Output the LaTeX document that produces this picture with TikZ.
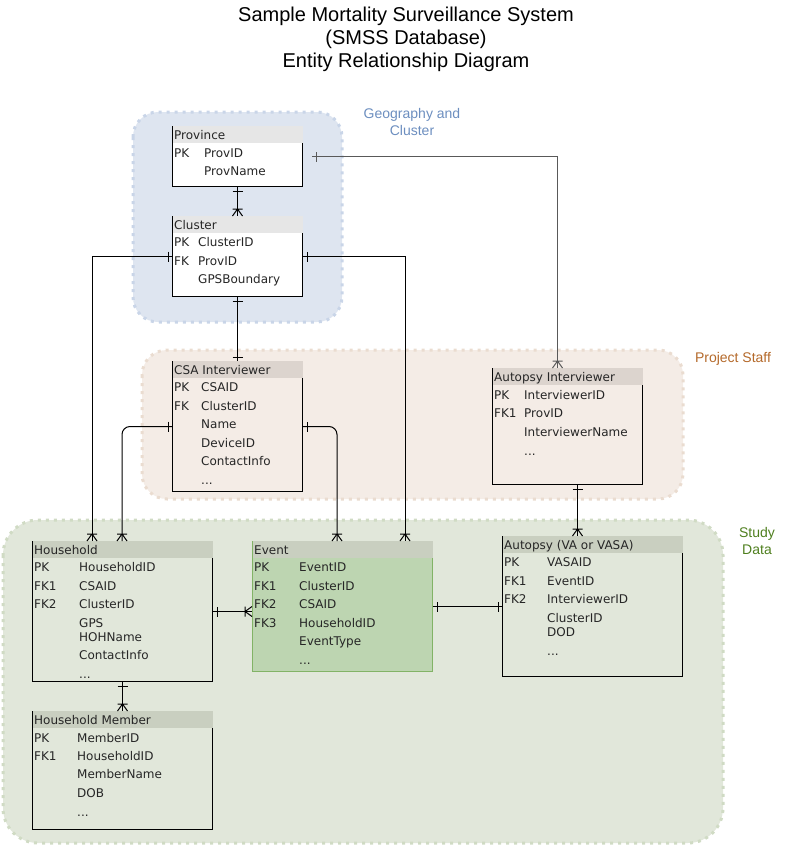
\documentclass[tikz,border=0pt]{standalone}
\usepackage{fontspec}
\setmainfont{DejaVu Sans}
\newfontfamily\arialfont{Liberation Sans}
\usetikzlibrary{decorations.markings}

\definecolor{geofill}{HTML}{DEE5F0}
\definecolor{geoline}{HTML}{C9D5E8}
\definecolor{geotext}{HTML}{6C8EBF}
\definecolor{stafffill}{HTML}{F4ECE6}
\definecolor{staffline}{HTML}{EADCD0}
\definecolor{stafftext}{HTML}{B4692A}
\definecolor{studyfill}{HTML}{E1E7DA}
\definecolor{studyline}{HTML}{D0DBC4}
\definecolor{studytext}{HTML}{4F7F1F}
\definecolor{hdrgeo}{HTML}{E6E6E6}
\definecolor{hdrstaff}{HTML}{DCD4CE}
\definecolor{hdrstudy}{HTML}{C9CFC0}
\definecolor{evfill}{HTML}{BDD5B1}
\definecolor{evline}{HTML}{82B366}

\newcommand\moredots{.\kern0pt.\kern0pt.}

\tikzset{
  tbl/.style={draw, anchor=north west, line width=1pt, inner sep=0pt},
  fld/.style={anchor=mid west, inner sep=0pt, yshift=-2pt, text=black!85, font=\fontsize{12}{14}\selectfont},
  grp/.style={line width=3pt, dash pattern=on 3pt off 5pt, rounded corners=25pt},
  grplabel/.style={font=\arialfont\fontsize{14}{17}\selectfont, align=center},
  conn/.style={line width=1pt},
  onefrom/.style={postaction={decorate, decoration={markings,
    mark=at position 4pt with {\draw[line width=1pt] (0,-5pt) -- (0,5pt);}}}},
  oneto/.style={postaction={decorate, decoration={markings,
    mark=at position -4pt with {\draw[line width=1pt] (0,-5pt) -- (0,5pt);}}}},
  manyto/.style={postaction={decorate, decoration={markings,
    mark=at position -7pt with {\draw[line width=1pt] (0,-5pt) -- (0,5pt)
      (0,0) -- (7pt,5pt) (0,0) -- (7pt,-5pt);}}}}
}

\begin{document}
\begin{tikzpicture}[x=1pt,y=-1pt]
\useasboundingbox (0,0) rectangle (802,846);

% The title
\node[font=\arialfont\fontsize{20}{23}\selectfont, align=center] (title) at (406,39)
  {Sample Mortality Surveillance System\\(SMSS Database)\\Entity Relationship Diagram};

% The groups
\draw[grp, fill=geofill, draw=geoline] (133,112) rectangle (342,322);
\draw[grp, fill=stafffill, draw=staffline] (142,350) rectangle (683,499);
\draw[grp, fill=studyfill, draw=studyline, rounded corners=35pt] (3,520) rectangle (723,843);
\node[grplabel, text=geotext] (geo) at (412,122) {Geography and\\Cluster};
\node[grplabel, text=stafftext] (staff) at (733,359) {Project Staff};
\node[grplabel, text=studytext] (study) at (757,541) {Study\\Data};

% Province
\node[tbl, fill=white, minimum width=130pt, minimum height=60pt] (prov) at (172,126) {};
\fill[hdrgeo] ([shift={(0.5pt,0.5pt)}]prov.north west) rectangle ([shift={(-0.5pt,-17pt)}]prov.north east);
\node[fld] (prov-t) at ([shift={(2pt,-9pt)}]prov.north west) {Province};
\foreach \y/\k/\f [count=\i] in {153/PK/ProvID, 171//ProvName} {
  \node[fld] (prov-k\i) at (174,\y) {\k};
  \node[fld] (prov-f\i) at (204,\y) {\f};
}

% Cluster
\node[tbl, fill=white, minimum width=130pt, minimum height=80pt] (clu) at (172,216) {};
\fill[hdrgeo] ([shift={(0.5pt,0.5pt)}]clu.north west) rectangle ([shift={(-0.5pt,-17pt)}]clu.north east);
\node[fld] (clu-t) at ([shift={(2pt,-9pt)}]clu.north west) {Cluster};
\foreach \y/\k/\f [count=\i] in {242/PK/ClusterID, 261/FK/ProvID, 279//GPSBoundary} {
  \node[fld] (clu-k\i) at (174,\y) {\k};
  \node[fld] (clu-f\i) at (198,\y) {\f};
}

% CSA Interviewer
\node[tbl, minimum width=130pt, minimum height=130pt] (csa) at (172,361) {};
\fill[hdrstaff] ([shift={(0.5pt,0.5pt)}]csa.north west) rectangle ([shift={(-0.5pt,-17pt)}]csa.north east);
\node[fld] (csa-t) at ([shift={(2pt,-9pt)}]csa.north west) {CSA Interviewer};
\foreach \y/\k/\f [count=\i] in {387/PK/CSAID, 406/FK/ClusterID, 424//Name,
    443//DeviceID, 461//ContactInfo, 480//\moredots} {
  \node[fld] (csa-k\i) at (174,\y) {\k};
  \node[fld] (csa-f\i) at (201,\y) {\f};
}

% Autopsy Interviewer
\node[tbl, minimum width=150pt, minimum height=116pt] (ai) at (492,368) {};
\fill[hdrstaff] ([shift={(0.5pt,0.5pt)}]ai.north west) rectangle ([shift={(-0.5pt,-17pt)}]ai.north east);
\node[fld] (ai-t) at ([shift={(2pt,-9pt)}]ai.north west) {Autopsy Interviewer};
\foreach \y/\k/\f [count=\i] in {395/PK/InterviewerID, 413/FK1/ProvID,
    432//InterviewerName, 451//\moredots} {
  \node[fld] (ai-k\i) at (494,\y) {\k};
  \node[fld] (ai-f\i) at (524,\y) {\f};
}

% Household
\node[tbl, minimum width=180pt, minimum height=140pt] (hh) at (32,541) {};
\fill[hdrstudy] ([shift={(0.5pt,0.5pt)}]hh.north west) rectangle ([shift={(-0.5pt,-17pt)}]hh.north east);
\node[fld] (hh-t) at ([shift={(2pt,-9pt)}]hh.north west) {Household};
\foreach \y/\k/\f [count=\i] in {567/PK/HouseholdID, 586/FK1/CSAID, 604/FK2/ClusterID,
    623//GPS, 637//HOHName, 655//ContactInfo, 674//\moredots} {
  \node[fld] (hh-k\i) at (34,\y) {\k};
  \node[fld] (hh-f\i) at (79,\y) {\f};
}

% Event
\node[tbl, draw=evline, fill=evfill, minimum width=180pt, minimum height=130pt] (ev) at (252,541) {};
\fill[hdrstudy] ([shift={(0.5pt,0.5pt)}]ev.north west) rectangle ([shift={(-0.5pt,-17pt)}]ev.north east);
\node[fld] (ev-t) at ([shift={(2pt,-9pt)}]ev.north west) {Event};
\foreach \y/\k/\f [count=\i] in {567/PK/EventID, 586/FK1/ClusterID, 604/FK2/CSAID,
    623/FK3/HouseholdID, 641//EventType, 660//\moredots} {
  \node[fld] (ev-k\i) at (254,\y) {\k};
  \node[fld] (ev-f\i) at (299,\y) {\f};
}

% Autopsy
\node[tbl, minimum width=180pt, minimum height=140pt] (ap) at (502,536) {};
\fill[hdrstudy] ([shift={(0.5pt,0.5pt)}]ap.north west) rectangle ([shift={(-0.5pt,-17pt)}]ap.north east);
\node[fld] (ap-t) at ([shift={(2pt,-9pt)}]ap.north west) {Autopsy (VA or VASA)};
\foreach \y/\k/\f [count=\i] in {562/PK/VASAID, 581/FK1/EventID, 599/FK2/InterviewerID,
    618//ClusterID, 632//DOD, 651//\moredots} {
  \node[fld] (ap-k\i) at (504,\y) {\k};
  \node[fld] (ap-f\i) at (547,\y) {\f};
}

% Household Member
\node[tbl, minimum width=180pt, minimum height=118pt] (hm) at (32,711) {};
\fill[hdrstudy] ([shift={(0.5pt,0.5pt)}]hm.north west) rectangle ([shift={(-0.5pt,-17pt)}]hm.north east);
\node[fld] (hm-t) at ([shift={(2pt,-9pt)}]hm.north west) {Household Member};
\foreach \y/\k/\f [count=\i] in {738/PK/MemberID, 756/FK1/HouseholdID, 774//MemberName,
    793//DOB, 812//\moredots} {
  \node[fld] (hm-k\i) at (34,\y) {\k};
  \node[fld] (hm-f\i) at (77,\y) {\f};
}

% The relations
\coordinate (prov-r) at ([xshift=9pt]prov.east);
\coordinate (ai-b) at ([xshift=10pt]ai.south);
\draw[conn, onefrom, manyto] (prov.south) -- (clu.north);
\draw[conn, color=black!65, onefrom, manyto] (prov-r) -| ([xshift=-10pt]ai.north);
\draw[conn, onefrom, manyto] (clu.west) -| ([xshift=60pt]hh.north west);
\draw[conn, onefrom, manyto] (clu.east) -| ([xshift=153pt]ev.north west);
\draw[conn, onefrom, oneto] (clu.south) -- (csa.north);
\draw[conn, rounded corners=8pt, onefrom, manyto] (csa.west) -| ([xshift=90pt]hh.north west);
\draw[conn, rounded corners=8pt, onefrom, manyto] (csa.east) -| ([xshift=85pt]ev.north west);
\draw[conn, onefrom, manyto] (ai-b) -- (ai-b |- ap.north);
\draw[conn, onefrom, manyto] (hh.east) -- (hh.east -| ev.west);
\draw[conn, onefrom, oneto] (ev.east) -- (ev.east -| ap.west);
\draw[conn, onefrom, manyto] (hh.south) -- (hm.north);
\end{tikzpicture}
\end{document}
